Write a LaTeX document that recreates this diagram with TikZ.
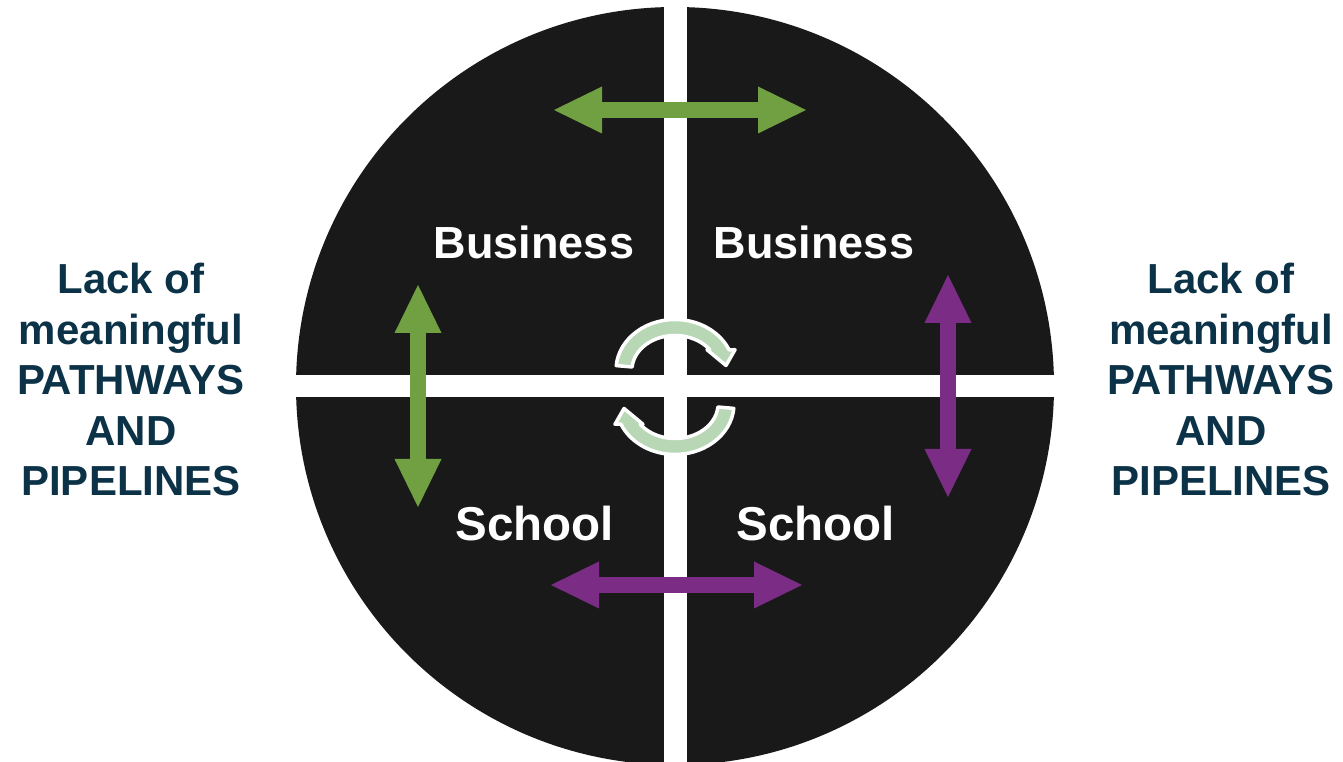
\documentclass[tikz,border=0pt]{standalone}
\usepackage{fontspec}
\setmainfont{Liberation Sans}
\usetikzlibrary{arrows.meta}

\definecolor{discgrey}{HTML}{191919}
\definecolor{leafgreen}{HTML}{70A041}
\definecolor{plum}{HTML}{7B2D86}
\definecolor{navytext}{HTML}{0B3247}
\definecolor{paleleaf}{HTML}{B7D7B5}

\tikzset{
	Head/.tip={Triangle[length=48pt 0 0, width=47pt 0 0, line width=0pt]},
	twoway/.style={line width=16pt, Head-Head},
	quadtext/.style={text=white, font=\bfseries\fontsize{45}{54}\selectfont, inner sep=0pt, anchor=base},
	sidetext/.style={text=navytext, font=\bfseries\fontsize{42}{50.5}\selectfont, align=center, inner sep=0pt},
	cyclearrow/.pic={
		\fill[paleleaf, draw=white, line width=3.5pt, line join=round]
			(175:59pt and 50.5pt) arc[start angle=175, end angle=23.6, x radius=59pt, y radius=50.5pt]
			-- (60pt,20.25pt) -- (51pt,4.5pt) -- (32pt,20.25pt) -- (34.8pt,20.25pt)
			arc[start angle=35.9, end angle=175, x radius=43pt, y radius=34.5pt] -- cycle;
	}
}

\begin{document}
\begin{tikzpicture}[x=1pt, y=1pt]
	\useasboundingbox (0,0) rectangle (1343,762);
	% disc split in four
	\fill[discgrey] (675,376) circle[radius=379pt];
	\fill[white] (663.5,-10) rectangle (686.5,770);
	\fill[white] (290,365) rectangle (1060,387);

	\node[quadtext] (bizleft) at (534,503) {Business};
	\node[quadtext] (bizright) at (814,503) {Business};
	\node[quadtext, font=\bfseries\fontsize{47.5}{54}\selectfont] (schoolleft) at (534.5,221) {School};
	\node[quadtext, font=\bfseries\fontsize{47.5}{54}\selectfont] (schoolright) at (815.5,221) {School};

	\node[sidetext] (lackleft) at (131,382.4) {Lack of\\meaningful\\PATHWAYS\\AND\\PIPELINES};
	\node[sidetext] (lackright) at (1221,382.4) {Lack of\\meaningful\\PATHWAYS\\AND\\PIPELINES};

	% arrow ends
	\coordinate (topW) at (554,652);
	\coordinate (topE) at (806,652);
	\coordinate (botW) at (551,177);
	\coordinate (botE) at (802,177);
	\coordinate (leftN) at (418,477);
	\coordinate (leftS) at (418,255);
	\coordinate (rightN) at (948,487);
	\coordinate (rightS) at (948,265);

	\draw[twoway, leafgreen] (topW) -- (topE);
	\draw[twoway, leafgreen] (leftN) -- (leftS);
	\draw[twoway, plum] (botW) -- (botE);
	\draw[twoway, plum] (rightN) -- (rightS);

	% turning arrows in the middle
	\pic at (675,392) {cyclearrow};
	\pic[rotate=180] at (675,358) {cyclearrow};
\end{tikzpicture}
\end{document}
